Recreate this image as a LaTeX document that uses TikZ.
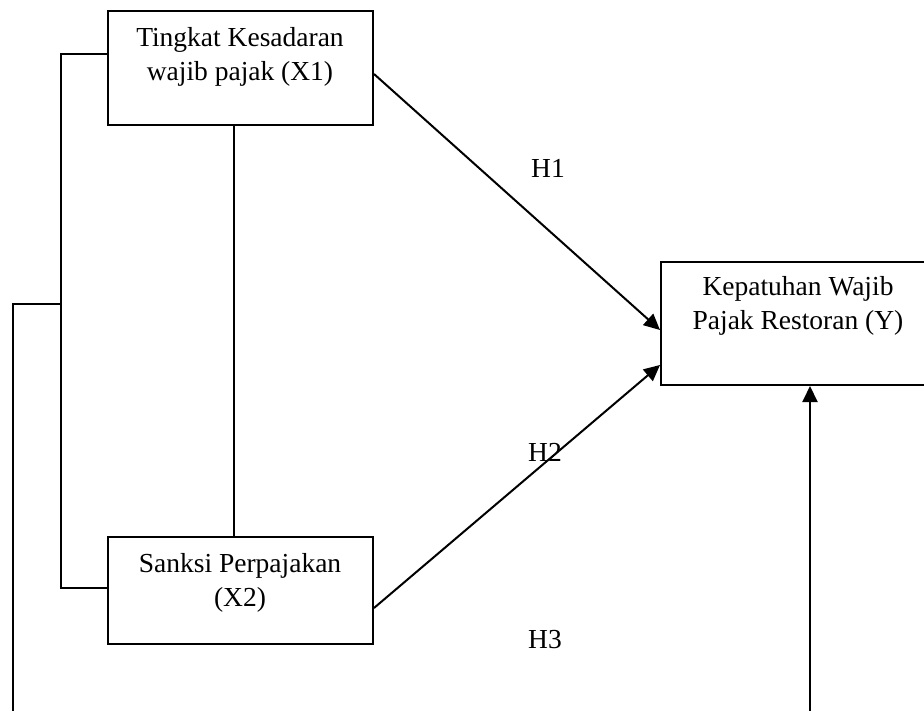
\documentclass[tikz,border=0pt]{standalone}
\usepackage{fontspec}
\setmainfont{Liberation Serif}
\usetikzlibrary{arrows.meta}
\begin{document}
\begin{tikzpicture}[x=1pt,y=-1pt,
  line width=2pt,
  box/.style={draw, rectangle, inner sep=0pt, line width=2pt},
  txt/.style={align=center, inner sep=0pt, font=\fontsize{27.5}{34}\selectfont},
  lbl/.style={inner sep=0pt, font=\fontsize{27.5}{34}\selectfont},
  arr/.style={-{Triangle[length=16pt,width=15pt]}}]
\useasboundingbox (0,0) rectangle (924,711);
\clip (0,0) rectangle (924,711);
\node[box, minimum width=265pt, minimum height=114pt] (x1) at (240.5,68) {};
\node[box, minimum width=265pt, minimum height=107pt] (x2) at (240.5,590.5) {};
\node[box, minimum width=274pt, minimum height=123pt] (y) at (798,323.5) {};
\node[txt] (x1t) at (240,57) {Tingkat Kesadaran\\wajib pajak (X1)};
\node[txt] (x2t) at (240,583) {Sanksi Perpajakan\\(X2)};
\node[txt] (yt) at (798,306) {Kepatuhan Wajib\\Pajak Restoran (Y)};
\node[lbl] (h1) at (548,168) {H1};
\node[lbl] (h2) at (545,452) {H2};
\node[lbl] (h3) at (545,640) {H3};
\coordinate (c1) at (61,304);
\coordinate (b1) at (13,711);
\coordinate (b2) at (810,711);
% links
\draw ([yshift=14pt]x1.west) -| (c1) |- ([yshift=2.5pt]x2.west);
\draw ([xshift=-6.5pt]x1.south) -- ([xshift=-6.5pt]x2.north);
\draw (c1) -| (b1);
\draw[arr] ([yshift=-6pt]x1.east) -- ([yshift=-6.5pt]y.west);
\draw[arr] ([yshift=-17.5pt]x2.east) -- ([yshift=-41.5pt]y.west);
\draw[arr] (b2) -- (b2 |- y.south);
\end{tikzpicture}
\end{document}
